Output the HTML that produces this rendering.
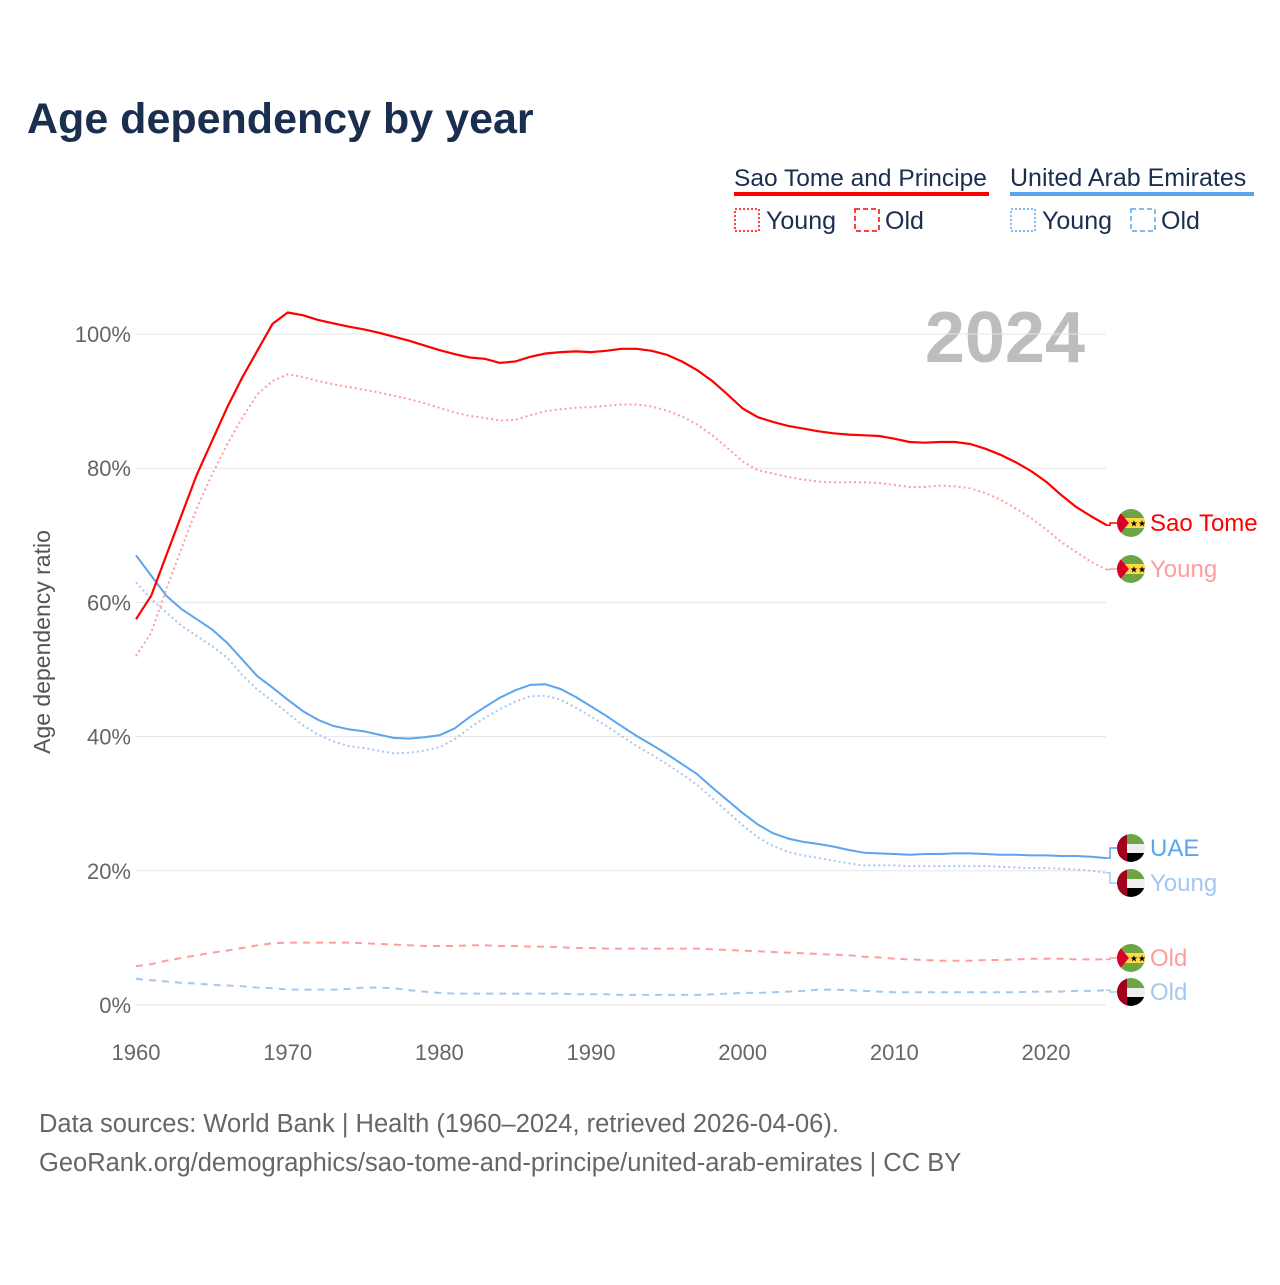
<!DOCTYPE html>
<html><head><meta charset="utf-8"><style>
body{margin:0;background:#fff;width:1280px;height:1280px;overflow:hidden;font-family:"Liberation Sans",sans-serif}
</style></head><body>
<svg id="chart" width="1280" height="1280" xmlns="http://www.w3.org/2000/svg" font-family="Liberation Sans, sans-serif">
<text x="27" y="133" font-size="43" font-weight="bold" fill="#1a2e4f">Age dependency by year</text>
<g font-size="25" fill="#1a2e4f">
<text x="734" y="186" font-size="24.5">Sao Tome and Principe</text>
<rect x="734" y="192" width="255" height="4" fill="#f00"/>
<rect x="735" y="209" width="24" height="22" fill="none" stroke="#f00" stroke-width="1.5" stroke-dasharray="2,2"/>
<text x="766" y="229">Young</text>
<rect x="855" y="209" width="24" height="22" fill="none" stroke="#f00" stroke-width="1.5" stroke-dasharray="5,3"/>
<text x="885" y="229">Old</text>
<text x="1010" y="186">United Arab Emirates</text>
<rect x="1010" y="192" width="244" height="4" fill="#5aa5ee"/>
<rect x="1011" y="209" width="24" height="22" fill="none" stroke="#5aa5ee" stroke-width="1.5" stroke-dasharray="2,2"/>
<text x="1042" y="229">Young</text>
<rect x="1131" y="209" width="24" height="22" fill="none" stroke="#5aa5ee" stroke-width="1.5" stroke-dasharray="5,3"/>
<text x="1161" y="229">Old</text>
</g>
<text x="1085" y="362" font-size="72" font-weight="bold" fill="#bdbdbd" text-anchor="end">2024</text>
<text transform="translate(50,642) rotate(-90)" font-size="23" fill="#555" text-anchor="middle">Age dependency ratio</text>
<g id="grid"></g><g id="xt"></g><g id="lines"></g><g id="ends"></g>
<text x="39" y="1132" font-size="25.5" fill="#666">Data sources: World Bank | Health (1960–2024, retrieved 2026-04-06).</text>
<text x="39" y="1171" font-size="25.5" fill="#666">GeoRank.org/demographics/sao-tome-and-principe/united-arab-emirates | CC BY</text>
</svg>
<script>
const years=[];for(let y=1960;y<=2024;y++)years.push(y);
const yTicks=[0,20,40,60,80,100];
const xTicks=[1960,1970,1980,1990,2000,2010,2020];
const stpTotal=[57.5,61,67,73,79,84,89,93.5,97.5,101.5,103.2,102.8,102.1,101.6,101.1,100.7,100.2,99.6,99.0,98.3,97.6,97.0,96.5,96.3,95.7,95.9,96.6,97.1,97.3,97.4,97.3,97.5,97.8,97.8,97.5,96.9,95.9,94.6,93.0,91.0,88.9,87.6,86.9,86.3,85.9,85.5,85.2,85.0,84.9,84.8,84.4,83.9,83.8,83.9,83.9,83.6,82.9,82.0,80.9,79.6,78.0,76.0,74.2,72.8,71.5];
const stpYoung=[52,55.5,62,68,74,79,83.5,87.5,91,93,94,93.6,93,92.5,92.1,91.7,91.3,90.8,90.3,89.7,89.0,88.3,87.8,87.5,87.1,87.2,87.9,88.5,88.8,89.0,89.1,89.3,89.5,89.5,89.2,88.6,87.7,86.5,84.9,83.0,81.0,79.7,79.2,78.7,78.3,78.0,77.9,77.9,77.9,77.8,77.5,77.2,77.2,77.4,77.3,77.0,76.3,75.3,74.0,72.6,70.9,69.0,67.5,66.0,64.9];
const stpOld=[5.8,6.1,6.6,7.0,7.4,7.8,8.1,8.5,8.9,9.2,9.3,9.3,9.3,9.3,9.3,9.2,9.1,9.0,8.9,8.8,8.8,8.8,8.9,8.9,8.8,8.8,8.7,8.7,8.6,8.5,8.5,8.4,8.4,8.4,8.4,8.4,8.4,8.4,8.3,8.2,8.1,8.0,7.9,7.8,7.7,7.6,7.5,7.4,7.2,7.1,6.9,6.8,6.7,6.6,6.6,6.6,6.7,6.7,6.8,6.9,6.9,6.9,6.8,6.8,6.8];
const uaeTotal=[67,64,61,59,57.5,56,54,51.5,49,47.3,45.5,43.8,42.5,41.6,41.1,40.8,40.3,39.8,39.7,39.9,40.2,41.2,42.9,44.4,45.8,46.9,47.7,47.8,47.1,45.9,44.5,43.1,41.6,40.1,38.8,37.4,35.9,34.4,32.4,30.5,28.6,26.9,25.6,24.8,24.3,24.0,23.6,23.1,22.7,22.6,22.5,22.4,22.5,22.5,22.6,22.6,22.5,22.4,22.4,22.3,22.3,22.2,22.2,22.1,21.9];
const uaeYoung=[63,60.5,58.5,56.5,55,53.5,51.8,49.2,47,45.3,43.5,41.7,40.3,39.3,38.6,38.3,37.9,37.5,37.6,37.9,38.4,39.6,41.3,42.8,44.1,45.2,46.0,46.1,45.5,44.3,43.0,41.6,40.1,38.6,37.3,35.9,34.4,32.8,30.8,28.8,26.8,25.0,23.7,22.8,22.3,21.9,21.5,21.1,20.8,20.8,20.8,20.7,20.7,20.7,20.7,20.7,20.7,20.6,20.5,20.4,20.4,20.3,20.2,20.0,19.7];
const uaeOld=[3.9,3.7,3.5,3.3,3.2,3.0,2.9,2.8,2.6,2.5,2.3,2.3,2.3,2.3,2.4,2.6,2.6,2.5,2.2,2.0,1.8,1.7,1.7,1.7,1.7,1.7,1.7,1.7,1.7,1.6,1.6,1.6,1.5,1.5,1.5,1.5,1.5,1.5,1.6,1.7,1.8,1.8,1.9,2.0,2.1,2.3,2.3,2.2,2.1,2.0,1.9,1.9,1.9,1.9,1.9,1.9,1.9,1.9,1.9,2.0,2.0,2.0,2.1,2.1,2.2];
const NS="http://www.w3.org/2000/svg";
const X=y=>136+(y-1960)*(1046-136)/60;
const Y=v=>1005-v*6.71;
function mk(t,a,p){const e=document.createElementNS(NS,t);for(const k in a)e.setAttribute(k,a[k]);document.getElementById(p).appendChild(e);return e;}
yTicks.forEach(v=>{
 const l=mk('line',{x1:136,x2:1106,y1:Y(v),y2:Y(v),stroke:'#e6e6e6','stroke-width':1},'grid');
 
 
 const t=mk('text',{x:131,y:Y(v)+8,'font-size':22,fill:'#666','text-anchor':'end'},'grid');
 t.textContent=v+'%';
 
 
});
xTicks.forEach(v=>{
 const t=mk('text',{x:X(v),y:1060,'font-size':22,fill:'#666','text-anchor':'middle'},'xt');
 t.textContent=v;
 
 
});
const series=[
 ['stp-old-line',stpOld,'#ff9d9d','7,6',2],
 ['uae-old-line',uaeOld,'#a5c8ef','7,6',2],
 ['uae-young-line',uaeYoung,'#a5c8ef','2,3',2],
 ['uae-total-line',uaeTotal,'#5aa5ee','',2],
 ['stp-young-line',stpYoung,'#ff9d9d','2,3',2],
 ['stp-total-line',stpTotal,'#f00','',2.2]];
series.forEach(s=>{
 const d=s[1].map((v,i)=>(i?'L':'M')+X(years[i]).toFixed(1)+','+Y(v).toFixed(1)).join('');
 const p=mk('path',{d:d,fill:'none',stroke:s[2],'stroke-width':s[4],'stroke-dasharray':s[3],'stroke-linejoin':'round'},'lines');
 
 
});
function flag(kind,cx,cy,name){
 const g=mk('g',{},'ends');
 
 
 const id='c'+Math.round(cy);
 const cp=document.createElementNS(NS,'clipPath');cp.setAttribute('id',id);
 const c=document.createElementNS(NS,'circle');c.setAttribute('cx',cx);c.setAttribute('cy',cy);c.setAttribute('r',14);cp.appendChild(c);g.appendChild(cp);
 const gg=document.createElementNS(NS,'g');gg.setAttribute('clip-path','url(#'+id+')');g.appendChild(gg);
 const r=(x,y,w,h,f)=>{const e=document.createElementNS(NS,'rect');e.setAttribute('x',x);e.setAttribute('y',y);e.setAttribute('width',w);e.setAttribute('height',h);e.setAttribute('fill',f);gg.appendChild(e);};
 if(kind==='stp'){
  r(cx-14,cy-14,28,28,'#6da544');r(cx-14,cy-5,28,10,'#ffda44');
  const t=document.createElementNS(NS,'polygon');t.setAttribute('points',(cx-14)+','+(cy-14)+' '+(cx-2)+','+cy+' '+(cx-14)+','+(cy+14));t.setAttribute('fill','#d80027');gg.appendChild(t);
  const s=document.createElementNS(NS,'text');s.setAttribute('x',cx+7);s.setAttribute('y',cy+3.5);s.setAttribute('font-size',9);s.setAttribute('text-anchor','middle');s.textContent='★★';gg.appendChild(s);
 }else{
  r(cx-14,cy-14,28,10,'#6da544');r(cx-14,cy-4,28,9,'#eee');r(cx-14,cy+5,28,10,'#000');r(cx-14,cy-14,10,28,'#a2001d');
 }
}
const ends=[
 ['stp-total-end',stpTotal,523,'Sao Tome','#f00','stp'],
 ['stp-young-end',stpYoung,569,'Young','#ff9d9d','stp'],
 ['uae-total-end',uaeTotal,848,'UAE','#5aa5ee','uae'],
 ['uae-young-end',uaeYoung,883,'Young','#a5c8ef','uae'],
 ['stp-old-end',stpOld,958,'Old','#ff9d9d','stp'],
 ['uae-old-end',uaeOld,992,'Old','#a5c8ef','uae']];
ends.forEach(e=>{
 const yv=Y(e[1][e[1].length-1]);
 const l=mk('path',{d:'M1106,'+yv.toFixed(1)+'L1110,'+yv.toFixed(1)+'L1110,'+e[2]+'L1117,'+e[2],fill:'none',stroke:e[4],'stroke-width':1.5},'ends');
 
 
 flag(e[5],1131,e[2],e[0]+'-flag');
 const t=mk('text',{x:1150,y:e[2]+8,'font-size':24,fill:e[4]},'ends');
 t.textContent=e[3];
 
 
});
</script>
</body></html>
